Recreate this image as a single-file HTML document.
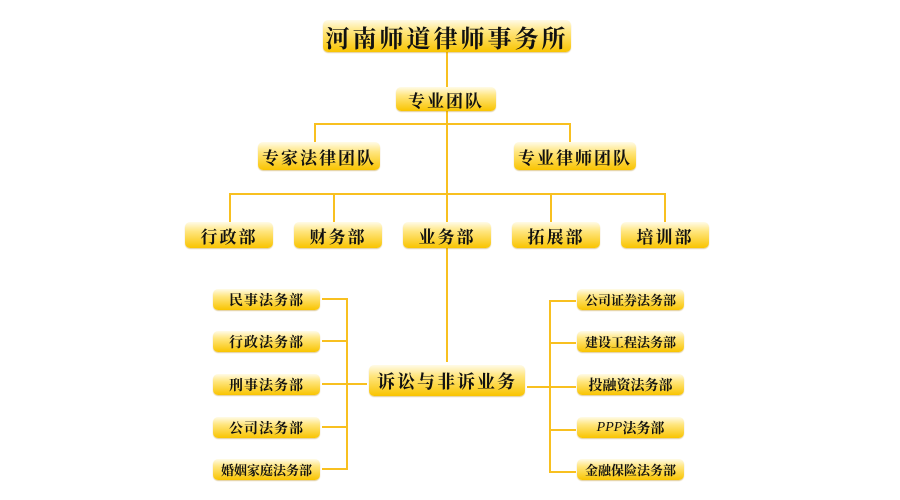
<!DOCTYPE html>
<html><head><meta charset="utf-8"><style>
body{margin:0;width:900px;height:500px;background:#fff;position:relative;overflow:hidden;font-family:"Liberation Serif","Noto Serif CJK SC",serif;}
.b{position:absolute;box-sizing:border-box;border-radius:5px;background:linear-gradient(#fffbe8 0%,#ffe680 35%,#f9c400 100%);display:flex;align-items:center;justify-content:center;color:#111;font-weight:bold;white-space:nowrap;box-shadow:0 1px 1px rgba(180,130,0,.4);}
.l{position:absolute;background:#f8c020;}
</style></head><body>
<div class="l" style="left:446px;top:52px;width:2px;height:35px"></div>
<div class="l" style="left:446px;top:110px;width:2px;height:252px"></div>
<div class="l" style="left:314px;top:123px;width:257px;height:2px"></div>
<div class="l" style="left:314px;top:123px;width:2px;height:19px"></div>
<div class="l" style="left:569px;top:123px;width:2px;height:19px"></div>
<div class="l" style="left:229px;top:193px;width:437px;height:2px"></div>
<div class="l" style="left:229px;top:193px;width:2px;height:29px"></div>
<div class="l" style="left:333px;top:193px;width:2px;height:29px"></div>
<div class="l" style="left:550px;top:193px;width:2px;height:29px"></div>
<div class="l" style="left:664px;top:193px;width:2px;height:29px"></div>
<div class="l" style="left:346px;top:298px;width:2px;height:172px"></div>
<div class="l" style="left:322px;top:298px;width:25px;height:2px"></div>
<div class="l" style="left:322px;top:340px;width:25px;height:2px"></div>
<div class="l" style="left:322px;top:383px;width:45px;height:2px"></div>
<div class="l" style="left:322px;top:426px;width:25px;height:2px"></div>
<div class="l" style="left:322px;top:468px;width:25px;height:2px"></div>
<div class="l" style="left:549px;top:300px;width:2px;height:172px"></div>
<div class="l" style="left:549px;top:300px;width:27px;height:2px"></div>
<div class="l" style="left:549px;top:342px;width:27px;height:2px"></div>
<div class="l" style="left:527px;top:386px;width:49px;height:2px"></div>
<div class="l" style="left:549px;top:429px;width:27px;height:2px"></div>
<div class="l" style="left:549px;top:471px;width:27px;height:2px"></div>

<div class="b" style="left:323px;top:20px;width:248px;height:32px;font-size:24px;letter-spacing:3px">河南师道律师事务所</div>
<div class="b" style="left:396px;top:87px;width:100px;height:24px;font-size:17px;letter-spacing:2px">专业团队</div>
<div class="b" style="left:258px;top:142px;width:122px;height:28px;font-size:17px;letter-spacing:2px">专家法律团队</div>
<div class="b" style="left:514px;top:142px;width:122px;height:28px;font-size:17px;letter-spacing:2px">专业律师团队</div>
<div class="b" style="left:185px;top:222px;width:88px;height:26px;font-size:17px;letter-spacing:2px">行政部</div>
<div class="b" style="left:294px;top:222px;width:88px;height:26px;font-size:17px;letter-spacing:2px">财务部</div>
<div class="b" style="left:403px;top:222px;width:88px;height:26px;font-size:17px;letter-spacing:2px">业务部</div>
<div class="b" style="left:512px;top:222px;width:88px;height:26px;font-size:17px;letter-spacing:2px">拓展部</div>
<div class="b" style="left:621px;top:222px;width:88px;height:26px;font-size:17px;letter-spacing:2px">培训部</div>
<div class="b" style="left:369px;top:365px;width:156px;height:31px;font-size:18px;letter-spacing:2px">诉讼与非诉业务</div>

<div class="b" style="left:213px;top:289px;width:107px;height:21px;font-size:14px;letter-spacing:1px">民事法务部</div>
<div class="b" style="left:213px;top:331px;width:107px;height:21px;font-size:14px;letter-spacing:1px">行政法务部</div>
<div class="b" style="left:213px;top:374px;width:107px;height:21px;font-size:14px;letter-spacing:1px">刑事法务部</div>
<div class="b" style="left:213px;top:417px;width:107px;height:21px;font-size:14px;letter-spacing:1px">公司法务部</div>
<div class="b" style="left:213px;top:459px;width:107px;height:21px;font-size:13px">婚姻家庭法务部</div>

<div class="b" style="left:577px;top:289px;width:107px;height:21px;font-size:13px">公司证券法务部</div>
<div class="b" style="left:577px;top:331px;width:107px;height:21px;font-size:13px">建设工程法务部</div>
<div class="b" style="left:577px;top:374px;width:107px;height:21px;font-size:14px">投融资法务部</div>
<div class="b" style="left:577px;top:417px;width:107px;height:21px;font-size:14px;font-weight:normal"><span style="font-style:italic">PPP</span><b>法务部</b></div>
<div class="b" style="left:577px;top:459px;width:107px;height:21px;font-size:13px">金融保险法务部</div>
</body></html>
